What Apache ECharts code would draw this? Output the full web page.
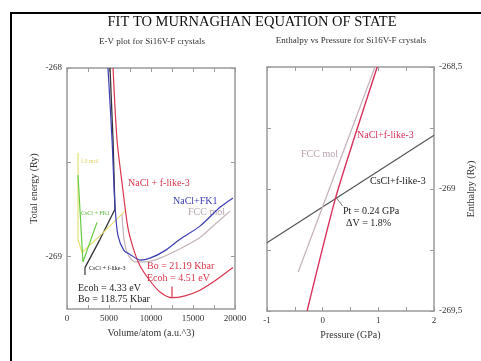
<!DOCTYPE html>
<html>
  <head>
    <meta charset="utf-8">
    <title>Fit to Murnaghan equation of state</title>
    <script src="https://cdn.jsdelivr.net/npm/echarts@6/dist/echarts.min.js"></script>
    <style>
      html, body { margin: 0; padding: 0; background: #fff; }
      #chart { width: 481px; height: 361px; }
    </style>
  </head>
  <body>
    <div id="chart"></div>
    <script>
      // --- left panel: E-V curves (volume a.u.^3, energy Ry)
      const redV   = [5480, 5950, 6550, 7260, 7980, 8690, 9880, 11070, 12500, 14050, 15830, 17620, 19760];
      const redE   = [-268.00, -268.38, -268.61, -268.85, -268.97, -269.05, -269.13, -269.19, -269.22, -269.21, -269.18, -269.13, -269.06];
      const blueV  = [4880, 5360, 5710, 6070, 6790, 7500, 8690, 9880, 11670, 13450, 15830, 18210, 19760];
      const blueE  = [-268.00, -268.38, -268.73, -268.89, -268.97, -268.99, -269.02, -269.01, -268.97, -268.91, -268.84, -268.74, -268.69];
      const fccV   = [6550, 6790, 7260, 8100, 9290, 11070, 13450, 15830, 17620, 19400];
      const fccE   = [-268.78, -268.91, -268.99, -269.03, -269.03, -269.01, -268.96, -268.90, -268.83, -268.76];
      const csclV  = [2140, 3930, 5710, 5480, 5120];
      const csclE  = [-269.06, -268.91, -268.75, -268.38, -268.00];
      const cfk1V  = [1310, 1900, 3570];
      const cfk1E  = [-268.57, -269.03, -268.82];
      const yelV   = [1310, 1310, 1790, 3930, 6900];
      const yelE   = [-268.45, -268.91, -268.98, -268.89, -268.76];
      const csclMinV = [2140, 2140];
      const csclMinE = [-269.06, -269.10];
      const redMinV  = [12500, 12500];
      const redMinE  = [-269.16, -269.22];

      // --- right panel: enthalpy vs pressure (GPa, Ry)
      const hRedP  = [-0.28, 0.24, 0.98];
      const hRedH  = [-269.50, -269.03, -268.50];
      const hFccP  = [-0.44, 0.94];
      const hFccH  = [-269.34, -268.50];
      const hCsclP = [-1, 2];
      const hCsclH = [-269.22, -268.78];
      const leadP  = [0.24, 0.36];
      const leadH  = [-269.035, -269.07];

      // tick labels
      const volLabels = [0, 5000, 10000, 15000, 20000];
      const volTicks  = [0, 2500, 5000, 7500, 10000, 12500, 15000, 17500, 20000];
      const eLabels   = [-268, -269];
      const eTicks    = [-268, -268.5, -269];
      const pLabels   = [-1, 0, 1, 2];
      const pTicks    = [-1, -0.5, 0, 0.5, 1, 1.5, 2];
      const hLabels   = [-268.5, -269, -269.5];
      const hTicks    = [-268.5, -268.75, -269, -269.25, -269.5];

      const SERIF = '"Liberation Serif", "DejaVu Serif", serif';
      const AXIS = '#9a9a9a';

      function pairs(xs, ys) { return xs.map((x, i) => [x, ys[i]]); }

      function axisBase(extra) {
        return Object.assign({
          type: 'value',
          axisLine: { show: true, onZero: false, lineStyle: { color: AXIS, width: 1.5 } },
          splitLine: { show: false },
          axisTick: { show: true, inside: true, length: 4, lineStyle: { color: AXIS, width: 1 } },
          axisLabel: { show: false },
          nameTextStyle: { fontFamily: SERIF, fontSize: 10, color: '#333' }
        }, extra);
      }
      function labels(vals, fmt) {
        return { show: true, customValues: vals, fontFamily: SERIF, fontSize: 9, color: '#333', margin: 5,
                 formatter: fmt || (v => String(v)) };
      }
      function ticks(vals) {
        return { show: true, inside: true, length: 4, customValues: vals, lineStyle: { color: AXIS, width: 1 } };
      }
      function line(name, data, color, xi, yi, width, smooth) {
        return { name, type: 'line', xAxisIndex: xi, yAxisIndex: yi, data, showSymbol: false, silent: true,
                 smooth: smooth || 0, lineStyle: { color, width: width || 1.2 }, animation: false };
      }
      function txt(x, y, text, size, color, align) {
        return { type: 'text', x, y, silent: true,
                 style: { text, font: size + 'px ' + SERIF, fill: color,
                          align: align || 'left', textAlign: align || 'left',
                          verticalAlign: 'middle', textVerticalAlign: 'middle' } };
      }

      const chart = echarts.init(document.getElementById('chart'), null, { renderer: 'canvas' });
      chart.setOption({
        animation: false,
        backgroundColor: '#fff',
        grid: [
          { left: 67, top: 68, width: 168, height: 241 },
          { left: 267, top: 67, width: 167, height: 244 }
        ],
        xAxis: [
          axisBase({ gridIndex: 0, position: 'bottom', min: 0, max: 20000,
                     axisLabel: labels(volLabels), axisTick: ticks(volTicks),
                     name: 'Volume/atom (a.u.^3)', nameLocation: 'middle', nameGap: 18 }),
          axisBase({ gridIndex: 0, position: 'top', min: 0, max: 20000, axisTick: ticks(volTicks) }),
          axisBase({ gridIndex: 1, position: 'bottom', min: -1, max: 2,
                     axisLabel: labels(pLabels), axisTick: ticks(pTicks),
                     name: 'Pressure (GPa)', nameLocation: 'middle', nameGap: 19 }),
          axisBase({ gridIndex: 1, position: 'top', min: -1, max: 2, axisTick: ticks(pTicks) })
        ],
        yAxis: [
          axisBase({ gridIndex: 0, position: 'left', min: -269.28, max: -268,
                     axisLabel: labels(eLabels), axisTick: ticks(eTicks),
                     name: 'Total energy (Ry)', nameLocation: 'middle', nameGap: 28, nameRotate: 90 }),
          axisBase({ gridIndex: 0, position: 'right', min: -269.28, max: -268, axisTick: ticks(eTicks) }),
          axisBase({ gridIndex: 1, position: 'left', min: -269.5, max: -268.5, axisTick: ticks(hTicks) }),
          axisBase({ gridIndex: 1, position: 'right', min: -269.5, max: -268.5,
                     axisLabel: labels(hLabels, v => String(v).replace('.', ',')), axisTick: ticks(hTicks),
                     name: 'Enthalpy (Ry)', nameLocation: 'middle', nameGap: 32, nameRotate: 90 })
        ],
        series: [
          line('CsCl + f-like-3', pairs(csclV, csclE), '#333333', 0, 0, 1.3),
          line('CsCl min', pairs(csclMinV, csclMinE), '#333333', 0, 0, 1.2),
          line('f.0 mol', pairs(yelV, yelE), '#e6e070', 0, 0, 1.2),
          line('CsCl + FK1', pairs(cfk1V, cfk1E), '#66cc44', 0, 0, 1.2),
          line('FCC mol', pairs(fccV, fccE), '#c4b4bc', 0, 0, 1.2, 0.25),
          line('NaCl + f-like-3', pairs(redV, redE), '#d8344c', 0, 0, 1.2, 0.25),
          line('NaCl min', pairs(redMinV, redMinE), '#d8344c', 0, 0, 1.2),
          line('NaCl+FK1', pairs(blueV, blueE), '#3c3cb4', 0, 0, 1.2, 0.25),

          line('H CsCl+f-like-3', pairs(hCsclP, hCsclH), '#555555', 2, 2, 1.2),
          line('H FCC mol', pairs(hFccP, hFccH), '#c4b0bc', 2, 2, 1.2),
          line('H NaCl+f-like-3', pairs(hRedP, hRedH), '#d8305a', 2, 2, 1.4, 0.2),
          line('Pt leader', pairs(leadP, leadH), '#555555', 2, 2, 0.8)
        ],
        graphic: [
          { type: 'polyline', silent: true, shape: { points: [[11, 361], [11, 13], [481, 13]] },
            style: { stroke: '#000', lineWidth: 2, fill: null } },
          txt(252, 22, 'FIT TO MURNAGHAN EQUATION OF STATE', 14.5, '#111', 'center'),
          txt(152, 42, 'E-V plot for Si16V-F crystals', 9, '#333', 'center'),
          txt(351, 41, 'Enthalpy vs Pressure for Si16V-F crystals', 9, '#333', 'center'),

          txt(128, 183, 'NaCl + f-like-3', 10, '#d8344c'),
          txt(173, 201, 'NaCl+FK1', 10, '#3c3cb4'),
          txt(188, 212, 'FCC mol', 10, '#b8a8b2'),
          txt(147, 266, 'Bo = 21.19 Kbar', 10, '#d8344c'),
          txt(147, 278, 'Ecoh = 4.51 eV', 10, '#d8344c'),
          txt(78, 288, 'Ecoh = 4.33 eV', 10, '#222'),
          txt(78, 299, 'Bo = 118.75 Kbar', 10, '#222'),
          txt(89, 268, 'CsCl + f-like-3', 6, '#222'),
          txt(81, 213, 'CsCl + FK1', 6, '#55bb33'),
          txt(81, 161, 'f.0 mol', 6, '#d8d060'),

          txt(357, 135, 'NaCl+f-like-3', 10, '#d8305a'),
          txt(301, 154, 'FCC mol', 10, '#b8a0b0'),
          txt(370, 181, 'CsCl+f-like-3', 10, '#222'),
          txt(343, 211, 'Pt = 0.24 GPa', 10, '#222'),
          txt(346, 223, '\u0394V = 1.8%', 10, '#222')
        ]
      });
    </script>
  </body>
</html>
